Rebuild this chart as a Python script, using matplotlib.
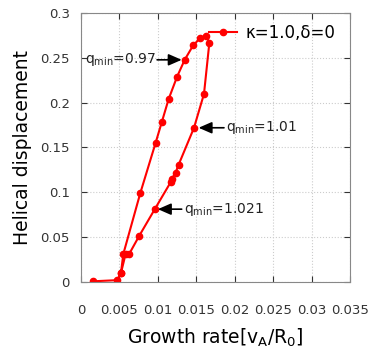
import numpy as np
import matplotlib.pyplot as plt

# growth rate vs helical displacement (one loop traced by the scan)
growth = [0.0015, 0.0047, 0.0052, 0.0058, 0.0063, 0.0076, 0.0096, 0.0117, 0.0118,
          0.0123, 0.0127, 0.0147, 0.0160, 0.0167, 0.0163, 0.0155, 0.0146, 0.0135,
          0.0125, 0.0114, 0.0105, 0.0097, 0.0077, 0.0055, 0.0052]
disp = [0.0007, 0.0020, 0.0100, 0.0310, 0.0317, 0.0518, 0.0812, 0.1118, 0.1148,
        0.1218, 0.1308, 0.1720, 0.2098, 0.2670, 0.2740, 0.2720, 0.2640, 0.2480,
        0.2290, 0.2040, 0.1780, 0.1550, 0.0987, 0.0310, 0.0100]

xticks = [0, 0.005, 0.01, 0.015, 0.02, 0.025, 0.03, 0.035]
xticklabels = ['0', '0.005', '0.01', '0.015', '0.02', '0.025', '0.03', '0.035']
yticks = [0, 0.05, 0.1, 0.15, 0.2, 0.25, 0.3]
yticklabels = ['0', '0.05', '0.1', '0.15', '0.2', '0.25', '0.3']

# annotations: label, arrow tip, arrow tail
notes = [('$\\mathregular{q_{min}}$=0.97', (0.0131, 0.2478), (0.0099, 0.2478), 'right'),
         ('$\\mathregular{q_{min}}$=1.01', (0.0153, 0.172), (0.0186, 0.172), 'left'),
         ('$\\mathregular{q_{min}}$=1.021', (0.0100, 0.0812), (0.0131, 0.0812), 'left')]

fig = plt.figure(figsize=(3.76, 3.52), dpi=100)
ax = fig.add_axes([0.2154, 0.199, 0.7156, 0.764])

ax.plot(growth, disp, color='#ff0000', lw=1.5, marker='o', ms=4.5, label='κ=1.0,δ=0')

for txt, tip, tail, side in notes:
    ax.annotate('', xy=tip, xytext=tail,
                arrowprops=dict(arrowstyle='-|>,head_length=0.8,head_width=0.35',
                                color='black', lw=1.2, shrinkA=0, shrinkB=0))
    off = -0.0002 if side == 'right' else 0.0003
    ax.text(tail[0] + off, tail[1], txt, ha=side, va='center', fontsize=10, color='#222222')

ax.set_xlim(0, 0.035)
ax.set_ylim(0, 0.3)
ax.set_xticks(xticks)
ax.set_xticklabels(xticklabels)
ax.set_yticks(yticks)
ax.set_yticklabels(yticklabels)
ax.tick_params(direction='in', top=True, right=True, labelsize=9.5, colors='#333333',
               length=4, pad=8)
ax.tick_params(axis='x', pad=16)
ax.grid(True, color='#cccccc', ls=':', lw=0.8)
for s in ax.spines.values():
    s.set_color('#888888')

ax.set_xlabel('Growth rate[$\\mathregular{v_A/R_0}$]', fontsize=13.5, labelpad=7)
ax.set_ylabel('Helical displacement', fontsize=13.5, labelpad=6)
ax.legend(loc='upper right', frameon=False, fontsize=12, handlelength=1.7,
          handletextpad=0.5, bbox_to_anchor=(1.0, 1.015))

fig.savefig('out.png', dpi=100)
